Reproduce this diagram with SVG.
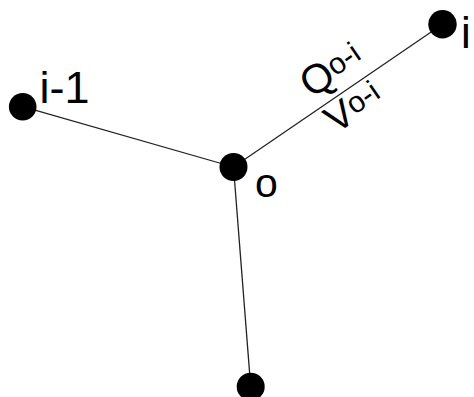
<svg xmlns="http://www.w3.org/2000/svg" width="474" height="397" viewBox="0 0 474 397">
<style>
.edge{stroke:#222;stroke-width:1.3;fill:none}
.dot{fill:#000}
.lbl{font-family:"Liberation Sans",Arial,sans-serif;fill:#000}
</style>
<rect width="474" height="397" fill="#fff"/>
<g id="connectors">
<line class="edge" x1="22.7" y1="106.7" x2="233.5" y2="167"/>
<line class="edge" x1="233.5" y1="167" x2="442.5" y2="24.2"/>
<line class="edge" x1="233.5" y1="167" x2="250.7" y2="386.7"/>
</g>
<g id="node-i">
<circle class="dot" cx="442.5" cy="24.2" r="14.2"/>
<text class="lbl" x="461" y="48" font-size="44">i</text>
</g>
<g id="node-i-1">
<circle class="dot" cx="22.7" cy="106.7" r="13.8"/>
<text class="lbl" x="39.5" y="103" font-size="45">i-1</text>
</g>
<g id="node-o">
<circle class="dot" cx="233.5" cy="167" r="14"/>
<text class="lbl" x="255" y="197" font-size="41">o</text>
</g>
<g id="node-bottom">
<circle class="dot" cx="250.7" cy="386.7" r="14"/>
</g>
<g id="edge-labels" transform="translate(233.5,167) rotate(-34.5)">
<text class="lbl" x="103" y="-11.7" font-size="41">Q<tspan font-size="30" dy="-5">o-i</tspan></text>
<text class="lbl" x="103" y="31" font-size="39">V<tspan font-size="30" dy="-5">o-i</tspan></text>
</g>
</svg>
